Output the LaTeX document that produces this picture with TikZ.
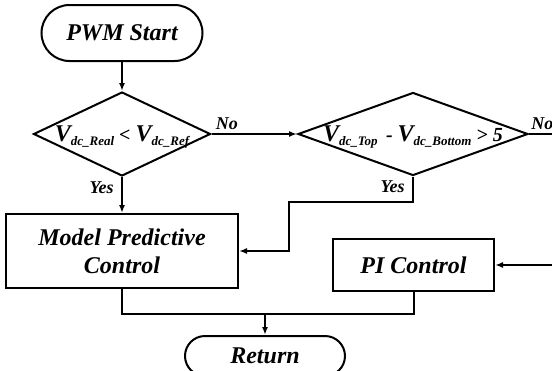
\documentclass[tikz,border=0pt]{standalone}
\usepackage{fontspec}
\setmainfont{Liberation Serif}
\usepackage{tikz}
\usetikzlibrary{positioning}
\usetikzlibrary{shapes.geometric}
\usetikzlibrary{arrows.meta}

\newcommand{\vdc}[1]{{\fontsize{24}{26}\selectfont V}\raisebox{-4pt}[0pt][0pt]{\fontsize{13}{15}\selectfont dc\_#1}}

\begin{document}
\begin{tikzpicture}[
        x = 1pt, y = 1pt,
        line width = 2pt,
        font = \bfseries\itshape,
        term/.style = {
            draw,
            rectangle,
            rounded corners = #1,
            minimum width = 161pt,
            inner sep = 0pt,
            font = \bfseries\itshape\fontsize{24}{28}\selectfont
        },
        term/.default = 28pt,
        decide/.style = {
            draw,
            diamond,
            inner sep = 0pt,
            minimum height = 84pt,
            font = \bfseries\itshape\fontsize{20}{22}\selectfont
        },
        block/.style = {
            draw,
            rectangle,
            align = center,
            inner sep = 0pt,
            font = \bfseries\itshape\fontsize{24}{28}\selectfont
        },
        lbl/.style = {
            font = \bfseries\itshape\fontsize{18}{20}\selectfont
        },
        arrow/.style = {
            -{Latex[length=8pt, width=6pt]}
        }
            ]
            \useasboundingbox (0,0) rectangle (552,-370);

            \node[term, minimum height=56pt] (start) at (122,-33) {PWM Start};
            \node[decide, aspect=2.1, minimum width=177pt] (dec1) at (122,-134) {\vdc{Real} < \vdc{Ref}};
            \node[decide, aspect=2.77, minimum width=230pt, minimum height=83pt] (dec2) at (413,-134) {\vdc{Top}\, - \vdc{Bottom} > 5};

            \node[block, minimum width=232pt, minimum height=74pt] (mpc) at (122,-251) {Model Predictive\\Control};
            \node[block, minimum width=161pt, minimum height=52pt] (pi) at (413.5,-265) {PI Control};

            \node[term=20pt, minimum height=40pt, minimum width=160pt] (ret) at (265,-356) {Return};

            \draw[arrow] (start) -- (dec1);
            \draw[arrow] (dec1.east) -- node[lbl, pos=0, above right]{No} (dec2.west);
            \draw[arrow] (dec1.south) -- node[lbl, pos=0, below left, xshift=-4pt]{Yes} (mpc.north);

            \draw[arrow] (dec2.south) -- node[lbl, pos=0, below left, xshift=-4pt]{Yes} ++(0,-25) -| ([xshift=50pt]mpc.east) -- (mpc.east);
            \draw[arrow] (dec2.east) -- node[lbl, pos=0, above right, xshift=-2pt]{No} ++(40,0) |- (pi.east);

            \draw (mpc.south) -- ++(0,-25) coordinate (join) -| (pi.south);
            \draw[arrow] (join -| ret.north) -- (ret.north);

        \end{tikzpicture}
\end{document}
